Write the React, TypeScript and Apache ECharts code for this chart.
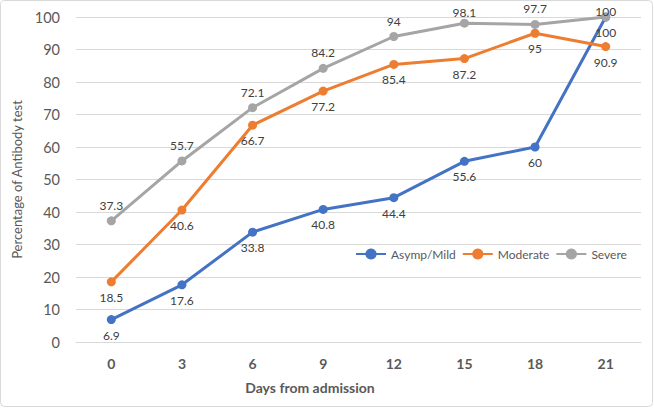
import React, { useEffect, useRef } from "react";
import * as echarts from "echarts";

const days = ["0", "3", "6", "9", "12", "15", "18", "21"];
const asympMild = [6.9, 17.6, 33.8, 40.8, 44.4, 55.6, 60, 100];
const moderate = [18.5, 40.6, 66.7, 77.2, 85.4, 87.2, 95, 90.9];
const severe = [37.3, 55.7, 72.1, 84.2, 94, 98.1, 97.7, 100];

const FONT = "Lato, 'Open Sans', sans-serif";

export default function App() {
  const ref = useRef<HTMLDivElement>(null);
  useEffect(() => {
    if (!ref.current) return;
    const chart = echarts.init(ref.current, null, { renderer: "svg" });
    const baseLabel = (pos: string) => ({
      show: true,
      position: pos,
      distance: 5,
      fontSize: 12,
      color: "#404040",
      fontFamily: FONT,
    });
    const mk = (name: string, data: any[], color: string, pos: string) => ({
      name,
      type: "line",
      data,
      symbol: "circle",
      symbolSize: 9,
      lineStyle: { width: 3, color },
      itemStyle: { color },
      label: baseLabel(pos),
    });
    const severeData = severe.map((v, i) => {
      if (i === 5) return { value: v, label: { distance: 0 } };
      if (i === 7) return { value: v, label: { distance: 0, offset: [0, 5] } };
      return v;
    });
    chart.setOption({
      animation: false,
      backgroundColor: "#fff",
      textStyle: { fontFamily: FONT },
      grid: { left: 76, right: 13, top: 17, bottom: 66 },
      legend: {
        left: 350,
        top: 243,
        itemWidth: 30,
        itemHeight: 14,
        itemGap: 6,
        textStyle: { fontSize: 12, color: "#595959", fontFamily: FONT },
        data: ["Asymp/Mild", "Moderate", "Severe"],
      },
      xAxis: {
        type: "category",
        data: days,
        boundaryGap: true,
        axisLine: { lineStyle: { color: "#d9d9d9" } },
        axisTick: { show: false },
        axisLabel: { fontSize: 14, fontWeight: "bold", color: "#595959", margin: 14, fontFamily: FONT },
      },
      yAxis: {
        type: "value",
        min: 0,
        max: 100,
        interval: 10,
        axisLine: { show: false },
        axisTick: { show: false },
        splitLine: { lineStyle: { color: "#d9d9d9" } },
        axisLabel: { fontSize: 14.5, color: "#595959", margin: 16, fontFamily: FONT },
        name: "Percentage of Antibody test",
        nameLocation: "middle",
        nameRotate: 90,
        nameGap: 46,
        nameTextStyle: { fontSize: 13, color: "#595959", fontFamily: FONT },
      },
      series: [
        mk("Asymp/Mild", asympMild, "#4472C4", "bottom"),
        mk("Moderate", moderate, "#ED7D31", "bottom"),
        mk("Severe", severeData, "#A5A5A5", "top"),
      ],
      graphic: [
        {
          type: "text",
          x: 310,
          y: 387,
          style: {
            text: "Days from admission",
            fontSize: 14,
            fontWeight: "bold",
            fill: "#595959",
            fontFamily: FONT,
            align: "center",
            verticalAlign: "middle",
          },
          silent: true,
        },
        {
          type: "rect",
          shape: { x: 0.5, y: 0.5, width: 652, height: 406, r: 4 },
          style: { fill: "none", stroke: "#d9d9d9", lineWidth: 1 },
          silent: true,
        },
      ],
    });
    return () => chart.dispose();
  }, []);
  return (
    <div
      ref={ref}
      style={{ position: "fixed", left: 0, top: 0, width: 654, height: 408 }}
    />
  );
}
